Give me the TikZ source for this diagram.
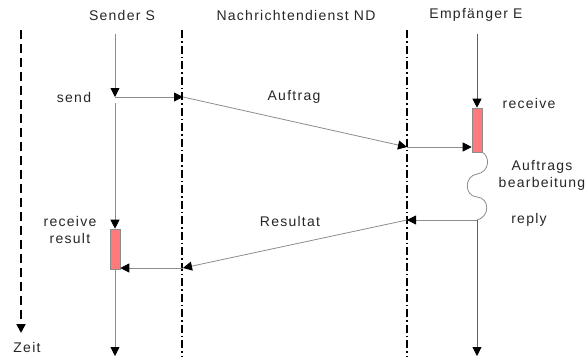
\documentclass[tikz,border=0pt]{standalone}
\usepackage{fontspec}
\setmainfont{Liberation Sans}[LetterSpace=9]
\usetikzlibrary{arrows.meta}
\definecolor{lnc}{HTML}{8C8C8C}
\definecolor{lnd}{HTML}{606060}
\definecolor{actc}{HTML}{FF7B7B}
\tikzset{
  lbl/.style={font=\fontsize{14}{16}\selectfont, text=black!85, inner sep=0pt, align=center},
  tip/.style={-{Triangle[length=9pt,width=9pt,color=black]}},
  life/.style={draw=lnc, line width=0.8pt},
  msg/.style={draw=lnc, line width=0.8pt, tip},
  net/.style={draw=black, line width=1.5pt, dash pattern=on 8pt off 3pt on 1.5pt off 3pt},
  act/.style={draw=lnc, fill=actc, minimum width=10pt, inner sep=0pt, line width=0.6pt},
  zeitl/.style={draw=black, line width=1.8pt, dash pattern=on 9pt off 5pt}
}
\begin{document}
\begin{tikzpicture}[x=1pt,y=-1pt]
\useasboundingbox (0,0) rectangle (587,359);
% titles
\node[lbl] (tS) at (122,15) {Sender S};
\node[lbl] (tN) at (296,15) {Nachrichtendienst ND};
\node[lbl] (tE) at (476,15) {Empfänger E};
% time axis
\coordinate (z0) at (21,30);
\coordinate (z1) at (21,333);
\draw[zeitl, tip] (z0) -- (z1);
\node[lbl] (zeit) at (27,347) {Zeit};
% network lines
\coordinate (n1t) at (182,30); \coordinate (n1b) at (182,356);
\coordinate (n2t) at (407,30); \coordinate (n2b) at (407,356);
\draw[net] (n1t) -- (n1b);
\draw[net] (n2t) -- (n2b);
% activation boxes
\node[act, minimum height=44pt] (aE) at (477,130) {};
\node[act, minimum height=40pt] (aS) at (115,249) {};
% sender lifeline
\coordinate (s0) at (115,34);
\coordinate (s1) at (115,97);
\coordinate (s2) at (115,103);
\coordinate (s3) at (115,356);
\draw[life, tip] (s0) -- (s1);
\draw[life, tip] (s2) -- (aS.north);
\draw[life, tip] (aS.south) -- (s3);
% send
\coordinate (n1a) at (183,97);
\coordinate (n2a) at (407,147);
\draw[msg] (s1) -- (n1a);
\draw[msg] (n1a) -- (n2a);
\draw[msg] (n2a) -- (aE.west |- n2a);
% receiver lifeline
\coordinate (e0) at (477,34);
\coordinate (e1) at (477,220);
\coordinate (e2) at (477,356);
\draw[draw=lnd, line width=0.8pt, tip] (e0) -- (aE.north);
\draw[life] (aE.south east) .. controls (490,156) and (490,172) .. (477,174)
   .. controls (464,176) and (464,196) .. (477,197)
   .. controls (490,198) and (490,217) .. (e1);
\draw[draw=lnd, line width=0.8pt, tip] (e1) -- (e2);
% reply
\coordinate (n2r) at (407,220);
\coordinate (n1r) at (183,268);
\draw[msg] (e1) -- (n2r);
\draw[msg] (n2r) -- (n1r);
\draw[msg] (n1r) -- (aS.east |- n1r);
% labels
\node[lbl] (lsend) at (74,97) {send};
\node[lbl] (lauf) at (294,97) {Auftrag};
\node[lbl] (lrec) at (529,103) {receive};
\node[lbl] (lab) at (542,175) {Auftrags\\[1pt]bearbeitung};
\node[lbl] (lrep) at (529,220) {reply};
\node[lbl] (lres) at (290,221) {Resultat};
\node[lbl] (lrr) at (70,230) {receive\\[1pt]result};
\end{tikzpicture}
\end{document}
